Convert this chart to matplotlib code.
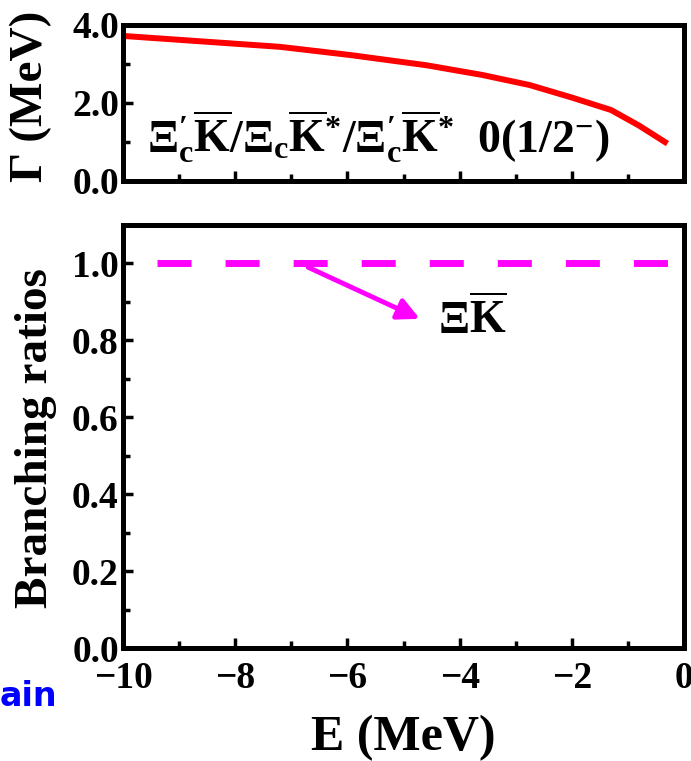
import matplotlib
matplotlib.use("Agg")
import matplotlib.pyplot as plt
from matplotlib.ticker import MultipleLocator

plt.rcParams['font.family'] = 'Liberation Serif'
plt.rcParams['font.weight'] = 'bold'
plt.rcParams['mathtext.fontset'] = 'custom'
plt.rcParams['mathtext.rm'] = 'Liberation Serif'
plt.rcParams['mathtext.bf'] = 'Liberation Serif:bold'
plt.rcParams['mathtext.it'] = 'Liberation Serif:italic'

# width Gamma vs binding energy
energy = [-10.0, -8.6, -7.2, -5.95, -4.6, -3.6, -2.75, -2.0, -1.3, -0.8, -0.34]
width = [3.72, 3.58, 3.44, 3.23, 2.97, 2.72, 2.46, 2.14, 1.82, 1.42, 1.0]

# branching ratio of the only channel
br_energy = [-10.0, 0.0]
br_xik = [1.0, 1.0]

# arrow: from point on line to label
arrow_tail = (-6.70, 0.99)
arrow_head = (-4.71, 0.856)
label_pos = (-4.38, 0.851)

fig = plt.figure(figsize=(6.91, 7.61), dpi=100)
ax1 = fig.add_axes([123/691, 1-181/761, 561/691, 156/761])
ax2 = fig.add_axes([123/691, 1-648/761, 561/691, 423/761])

ax1.plot(energy, width, color='red', lw=4.3)
ax1.set_xlim(-10, 0)
ax1.set_ylim(0, 4)
ax1.yaxis.set_major_locator(MultipleLocator(2))
ax1.yaxis.set_minor_locator(MultipleLocator(1))
ax1.yaxis.set_major_formatter(plt.FormatStrFormatter('%.1f'))
ax1.xaxis.set_major_locator(MultipleLocator(2))
ax1.xaxis.set_minor_locator(MultipleLocator(1))
ax1.tick_params(axis='x', which='both', labelbottom=False)
ax1.set_ylabel('Γ (MeV)', fontsize=34, fontweight='bold', va='center')
ax1.yaxis.set_label_coords(-0.165, 0.54)
ax1.text(-9.58, 0.74,
         r'$\Xi_{\mathbf{c}}^{\prime}\overline{\mathbf{K}}/\Xi_{\mathbf{c}}\overline{\mathbf{K}}^{*}/\Xi_{\mathbf{c}}^{\prime}\overline{\mathbf{K}}^{*}$  0(1/2$^{-}$)',
         fontsize=33, fontweight='bold', va='baseline')

ax2.plot(br_energy, br_xik, color='magenta', lw=5, ls=(4.9, (4.9, 4.9)))
ax2.set_xlim(-10, 0)
ax2.set_ylim(0, 1.1)
ax2.yaxis.set_major_locator(MultipleLocator(0.2))
ax2.yaxis.set_minor_locator(MultipleLocator(0.1))
ax2.yaxis.set_major_formatter(plt.FormatStrFormatter('%.1f'))
ax2.xaxis.set_major_locator(MultipleLocator(2))
ax2.xaxis.set_minor_locator(MultipleLocator(1))
ax2.set_xlabel('E (MeV)', fontsize=36, fontweight='bold', va='center')
ax2.xaxis.set_label_coords(0.5, -0.213)
ax2.set_ylabel('Branching ratios', fontsize=34, fontweight='bold', va='center')
ax2.yaxis.set_label_coords(-0.155, 0.496)
ax2.annotate('', xy=arrow_head, xytext=arrow_tail,
             arrowprops=dict(arrowstyle='-|>,head_length=1.3,head_width=0.65',
                             color='magenta', lw=3.5, shrinkA=0, shrinkB=0))
ax2.text(label_pos[0], label_pos[1], r'$\Xi\overline{\mathbf{K}}$', fontsize=33,
         va='center', ha='left')

for ax in (ax1, ax2):
    for s in ax.spines.values():
        s.set_linewidth(3.6)
    ax.tick_params(which='both', direction='in', width=2.5, labelsize=27,
                   top=False, right=False)
    ax.tick_params(axis='y', pad=3)
    ax.tick_params(axis='x', pad=9)
    ax.tick_params(which='major', length=7)
    ax.tick_params(which='minor', length=5)
    for lbl in ax.get_xticklabels() + ax.get_yticklabels():
        lbl.set_fontweight('bold')

fig.text(0.0, 1-697/761, 'ain', color='blue', fontsize=24, fontweight='bold',
         family='DejaVu Sans', va='center', ha='left')

fig.savefig('out.png', dpi=100)
